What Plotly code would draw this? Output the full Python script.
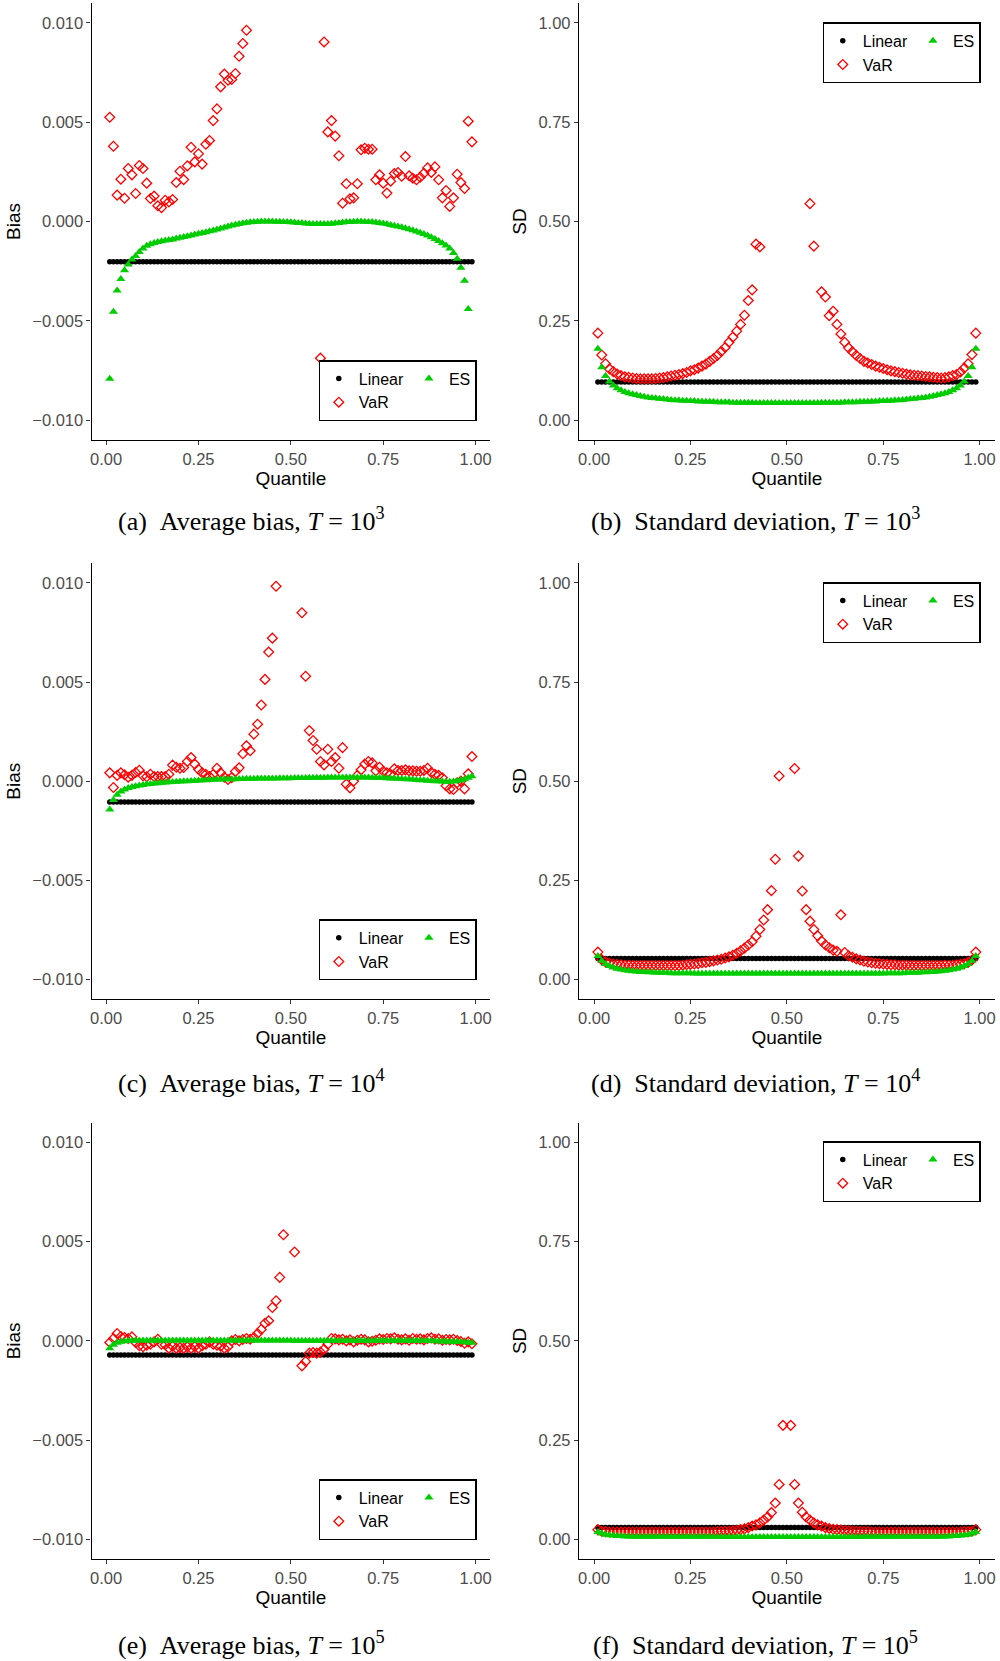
import plotly.graph_objects as go

# ---------------- data ----------------
QUANTILE = [0.01, 0.02, 0.03, 0.04, 0.05, 0.06, 0.07, 0.08, 0.09, 0.10,
            0.11, 0.12, 0.13, 0.14, 0.15, 0.16, 0.17, 0.18, 0.19, 0.20,
            0.21, 0.22, 0.23, 0.24, 0.25, 0.26, 0.27, 0.28, 0.29, 0.30,
            0.31, 0.32, 0.33, 0.34, 0.35, 0.36, 0.37, 0.38, 0.39, 0.40,
            0.41, 0.42, 0.43, 0.44, 0.45, 0.46, 0.47, 0.48, 0.49, 0.50,
            0.51, 0.52, 0.53, 0.54, 0.55, 0.56, 0.57, 0.58, 0.59, 0.60,
            0.61, 0.62, 0.63, 0.64, 0.65, 0.66, 0.67, 0.68, 0.69, 0.70,
            0.71, 0.72, 0.73, 0.74, 0.75, 0.76, 0.77, 0.78, 0.79, 0.80,
            0.81, 0.82, 0.83, 0.84, 0.85, 0.86, 0.87, 0.88, 0.89, 0.90,
            0.91, 0.92, 0.93, 0.94, 0.95, 0.96, 0.97, 0.98, 0.99]

# (a) Average bias, T = 10^3  (None = outside the plotted range)
LINEAR_A = [-0.00203] * 99
VAR_A = [0.00525, 0.00379, 0.00133, 0.00213, 0.00117, 0.00267, 0.00235, 0.00141, 0.00282, 0.00267,
         0.00193, 0.00116, 0.00128, 0.00079, 0.00070, 0.00107, 0.00099, 0.00111, 0.00196, 0.00253,
         0.00211, 0.00280, 0.00374, 0.00300, 0.00341, 0.00289, 0.00389, 0.00408, 0.00508, 0.00567,
         0.00678, 0.00742, 0.00711, 0.00715, 0.00745, 0.00832, 0.00896, 0.00963, None, None,
         None, None, None, None, None, None, None, None, None, None,
         None, None, None, None, None, None, None, -0.00688, 0.00904, 0.00451,
         0.00508, 0.00430, 0.00331, 0.00092, 0.00190, 0.00114, 0.00119, 0.00190, 0.00361, 0.00369,
         0.00364, 0.00364, 0.00210, 0.00235, 0.00193, 0.00143, 0.00203, 0.00242, 0.00247, 0.00228,
         0.00327, 0.00230, 0.00218, 0.00210, 0.00223, 0.00243, 0.00270, 0.00247, 0.00275, 0.00210,
         0.00119, 0.00156, 0.00076, 0.00119, 0.00238, 0.00196, 0.00166, 0.00505, 0.00401]
ES_A = [-0.00792, -0.00454, -0.00347, -0.00290, -0.00246, -0.00216, -0.00191, -0.00174, -0.00154, -0.00136,
        -0.00122, -0.00114, -0.00108, -0.00103, -0.00099, -0.00096, -0.00093, -0.00090, -0.00086, -0.00082,
        -0.00078, -0.00074, -0.00070, -0.00066, -0.00062, -0.00058, -0.00054, -0.00049, -0.00045, -0.00040,
        -0.00035, -0.00030, -0.00025, -0.00020, -0.00016, -0.00012, -0.00009, -0.00006, -0.00004, -0.00002,
        -0.00001, 0.00000, 0.00000, 0.00000, 0.00000, -0.00001, -0.00001, -0.00002, -0.00003, -0.00004,
        -0.00005, -0.00007, -0.00008, -0.00010, -0.00011, -0.00012, -0.00013, -0.00013, -0.00013, -0.00012,
        -0.00011, -0.00009, -0.00007, -0.00005, -0.00003, -0.00002, -0.00001, 0.00000, 0.00000, -0.00001,
        -0.00002, -0.00003, -0.00005, -0.00007, -0.00010, -0.00013, -0.00017, -0.00021, -0.00025, -0.00029,
        -0.00034, -0.00039, -0.00044, -0.00050, -0.00056, -0.00063, -0.00071, -0.00079, -0.00088, -0.00098,
        -0.00109, -0.00121, -0.00136, -0.00158, -0.00188, -0.00233, -0.00298, -0.00441, None]

# (b) Standard deviation, T = 10^3
LINEAR_B = [0.096] * 99
VAR_B = [0.219, 0.164, 0.142, 0.129, 0.122, 0.116, 0.112, 0.109, 0.108, 0.106,
         0.105, 0.104, 0.104, 0.104, 0.104, 0.105, 0.106, 0.107, 0.109, 0.111,
         0.113, 0.115, 0.117, 0.120, 0.124, 0.127, 0.131, 0.136, 0.141, 0.148,
         0.155, 0.163, 0.173, 0.183, 0.196, 0.209, 0.224, 0.241, 0.264, 0.301,
         0.328, 0.443, 0.436, None, None, None, None, None, None, None,
         None, None, None, None, None, 0.545, 0.438, None, 0.323, 0.310,
         0.263, 0.274, 0.241, 0.217, 0.196, 0.182, 0.172, 0.163, 0.155, 0.148,
         0.144, 0.140, 0.136, 0.133, 0.130, 0.127, 0.124, 0.122, 0.120, 0.118,
         0.116, 0.114, 0.113, 0.112, 0.111, 0.110, 0.109, 0.108, 0.107, 0.106,
         0.107, 0.109, 0.112, 0.115, 0.121, 0.131, 0.142, 0.165, 0.219]
ES_B = [0.180, 0.133, 0.111, 0.097, 0.087, 0.080, 0.075, 0.071, 0.068, 0.065,
        0.063, 0.061, 0.059, 0.057, 0.056, 0.055, 0.054, 0.053, 0.052, 0.051,
        0.050, 0.050, 0.049, 0.049, 0.048, 0.048, 0.047, 0.047, 0.046, 0.046,
        0.046, 0.045, 0.045, 0.045, 0.045, 0.044, 0.044, 0.044, 0.044, 0.044,
        0.044, 0.043, 0.043, 0.043, 0.043, 0.043, 0.043, 0.043, 0.043, 0.043,
        0.043, 0.043, 0.043, 0.043, 0.043, 0.043, 0.043, 0.043, 0.044, 0.044,
        0.044, 0.044, 0.044, 0.044, 0.045, 0.045, 0.045, 0.045, 0.046, 0.046,
        0.046, 0.047, 0.047, 0.048, 0.048, 0.049, 0.049, 0.050, 0.050, 0.051,
        0.052, 0.053, 0.054, 0.055, 0.056, 0.057, 0.059, 0.061, 0.063, 0.065,
        0.068, 0.071, 0.075, 0.080, 0.087, 0.097, 0.111, 0.133, 0.180]

# (c) Average bias, T = 10^4
LINEAR_C = [-0.00105] * 99
VAR_C = [0.00042, -0.00032, 0.00029, 0.00042, 0.00032, 0.00020, 0.00029, 0.00044, 0.00055, 0.00027,
         0.00022, 0.00035, 0.00023, 0.00023, 0.00023, 0.00023, 0.00035, 0.00081, 0.00070, 0.00065,
         0.00069, 0.00099, 0.00119, 0.00086, 0.00060, 0.00042, 0.00034, 0.00023, 0.00034, 0.00065,
         0.00042, 0.00020, 0.00008, 0.00018, 0.00049, 0.00067, 0.00138, 0.00178, 0.00153, 0.00237,
         0.00287, 0.00384, 0.00513, 0.00651, 0.00721, 0.00983, None, None, None, None,
         None, None, 0.00849, 0.00529, 0.00255, 0.00205, 0.00161, 0.00099, 0.00082, 0.00161,
         0.00099, 0.00119, 0.00065, 0.00169, -0.00015, -0.00034, 0.00000, 0.00029, 0.00057, 0.00086,
         0.00099, 0.00092, 0.00052, 0.00070, 0.00050, 0.00042, 0.00035, 0.00062, 0.00054, 0.00054,
         0.00057, 0.00052, 0.00052, 0.00050, 0.00050, 0.00054, 0.00065, 0.00044, 0.00034, 0.00029,
         0.00017, -0.00023, -0.00039, -0.00042, -0.00008, 0.00000, -0.00039, 0.00037, 0.00124]
ES_C = [-0.00143, -0.00095, -0.00068, -0.00052, -0.00042, -0.00035, -0.00030, -0.00026, -0.00022, -0.00019,
        -0.00016, -0.00014, -0.00012, -0.00010, -0.00008, -0.00007, -0.00006, -0.00004, -0.00003, -0.00002,
        -0.00001, 0.00000, 0.00001, 0.00002, 0.00003, 0.00004, 0.00005, 0.00006, 0.00007, 0.00008,
        0.00008, 0.00009, 0.00009, 0.00010, 0.00010, 0.00011, 0.00011, 0.00012, 0.00012, 0.00012,
        0.00013, 0.00013, 0.00013, 0.00014, 0.00014, 0.00014, 0.00015, 0.00015, 0.00015, 0.00015,
        0.00016, 0.00016, 0.00016, 0.00016, 0.00017, 0.00017, 0.00017, 0.00017, 0.00017, 0.00018,
        0.00018, 0.00018, 0.00018, 0.00018, 0.00018, 0.00018, 0.00018, 0.00018, 0.00018, 0.00018,
        0.00018, 0.00017, 0.00017, 0.00016, 0.00016, 0.00015, 0.00014, 0.00013, 0.00012, 0.00011,
        0.00010, 0.00009, 0.00008, 0.00006, 0.00005, 0.00004, 0.00002, 0.00001, 0.00000, -0.00001,
        -0.00002, -0.00003, -0.00003, -0.00002, 0.00001, 0.00005, 0.00010, 0.00017, 0.00025]

# (d) Standard deviation, T = 10^4
LINEAR_D = [0.053] * 99
VAR_D = [0.069, 0.050, 0.044, 0.041, 0.039, 0.038, 0.037, 0.036, 0.036, 0.035,
         0.035, 0.035, 0.035, 0.035, 0.035, 0.035, 0.035, 0.035, 0.035, 0.035,
         0.035, 0.035, 0.036, 0.037, 0.038, 0.039, 0.040, 0.042, 0.043, 0.045,
         0.047, 0.049, 0.051, 0.054, 0.057, 0.061, 0.066, 0.072, 0.079, 0.087,
         0.095, 0.109, 0.126, 0.150, 0.176, 0.224, 0.303, 0.513, None, None,
         None, 0.532, 0.311, 0.223, 0.176, 0.147, 0.126, 0.110, 0.097, 0.087,
         0.080, 0.074, 0.071, 0.163, 0.068, 0.060, 0.056, 0.052, 0.049, 0.046,
         0.044, 0.042, 0.041, 0.040, 0.039, 0.038, 0.037, 0.037, 0.036, 0.036,
         0.036, 0.035, 0.035, 0.035, 0.035, 0.035, 0.035, 0.035, 0.035, 0.035,
         0.036, 0.036, 0.036, 0.037, 0.038, 0.040, 0.043, 0.049, 0.069]
ES_D = [0.059, 0.047, 0.039, 0.034, 0.030, 0.027, 0.025, 0.023, 0.022, 0.021,
        0.020, 0.019, 0.019, 0.018, 0.018, 0.017, 0.017, 0.017, 0.017, 0.016,
        0.016, 0.016, 0.016, 0.016, 0.016, 0.015, 0.015, 0.015, 0.015, 0.015,
        0.015, 0.015, 0.015, 0.015, 0.015, 0.015, 0.015, 0.015, 0.015, 0.015,
        0.015, 0.015, 0.015, 0.015, 0.015, 0.015, 0.015, 0.015, 0.015, 0.015,
        0.015, 0.015, 0.015, 0.015, 0.015, 0.015, 0.015, 0.015, 0.015, 0.015,
        0.015, 0.015, 0.015, 0.015, 0.015, 0.015, 0.015, 0.015, 0.015, 0.015,
        0.015, 0.015, 0.015, 0.015, 0.015, 0.016, 0.016, 0.016, 0.016, 0.016,
        0.017, 0.017, 0.017, 0.017, 0.018, 0.018, 0.019, 0.019, 0.020, 0.021,
        0.022, 0.023, 0.025, 0.027, 0.030, 0.034, 0.039, 0.047, 0.059]

# (e) Average bias, T = 10^5
LINEAR_E = [-0.00071] * 99
VAR_E = [-0.00008, 0.00012, 0.00037, 0.00022, 0.00017, 0.00012, 0.00020, -0.00008, -0.00025, -0.00030,
         -0.00022, -0.00017, -0.00005, 0.00008, -0.00017, -0.00020, -0.00037, -0.00027, -0.00037, -0.00034,
         -0.00037, -0.00030, -0.00037, -0.00029, -0.00037, -0.00025, -0.00017, -0.00005, -0.00017, -0.00022,
         -0.00027, -0.00037, -0.00030, 0.00000, 0.00007, 0.00000, 0.00007, 0.00012, 0.00008, 0.00017,
         0.00037, 0.00057, 0.00089, 0.00101, 0.00168, 0.00202, 0.00320, 0.00535, None, None,
         0.00448, None, -0.00126, -0.00104, -0.00062, -0.00059, -0.00062, -0.00057, -0.00042, -0.00017,
         0.00012, 0.00010, 0.00005, 0.00008, 0.00000, 0.00005, -0.00005, 0.00003, 0.00008, 0.00005,
         -0.00005, -0.00002, 0.00003, 0.00010, 0.00007, 0.00012, 0.00010, 0.00015, 0.00008, 0.00005,
         0.00010, 0.00003, 0.00012, 0.00008, 0.00010, 0.00005, 0.00012, 0.00015, 0.00008, 0.00010,
         0.00003, 0.00007, 0.00005, 0.00008, 0.00002, -0.00003, -0.00012, -0.00005, -0.00015]
ES_E = [-0.00037, -0.00020, -0.00010, -0.00005, -0.00002, 0.00000, 0.00001, 0.00002, 0.00002, 0.00002,
        0.00002, 0.00002, 0.00002, 0.00002, 0.00002, 0.00002, 0.00002, 0.00002, 0.00002, 0.00002,
        0.00002, 0.00002, 0.00002, 0.00002, 0.00002, 0.00002, 0.00002, 0.00002, 0.00002, 0.00002,
        0.00002, 0.00002, 0.00002, 0.00002, 0.00002, 0.00002, 0.00002, 0.00002, 0.00002, 0.00002,
        0.00002, 0.00002, 0.00002, 0.00002, 0.00002, 0.00002, 0.00002, 0.00002, 0.00002, 0.00002,
        0.00001, 0.00001, 0.00001, 0.00001, 0.00001, 0.00001, 0.00001, 0.00001, 0.00001, 0.00001,
        0.00001, 0.00001, 0.00001, 0.00001, 0.00001, 0.00001, 0.00001, 0.00001, 0.00001, 0.00001,
        0.00001, 0.00001, 0.00001, 0.00001, 0.00001, 0.00001, 0.00001, 0.00001, 0.00001, 0.00001,
        0.00000, 0.00000, 0.00000, 0.00000, 0.00000, -0.00001, -0.00001, -0.00001, -0.00002, -0.00002,
        -0.00003, -0.00003, -0.00004, -0.00005, -0.00005, -0.00006, -0.00007, -0.00008, -0.00010]

# (f) Standard deviation, T = 10^5
LINEAR_F = [0.0295] * 99
VAR_F = [0.024, 0.020, 0.019, 0.018, 0.018, 0.018, 0.018, 0.018, 0.018, 0.018,
         0.018, 0.018, 0.018, 0.018, 0.018, 0.018, 0.018, 0.018, 0.018, 0.018,
         0.018, 0.018, 0.018, 0.018, 0.018, 0.018, 0.018, 0.018, 0.018, 0.018,
         0.018, 0.019, 0.019, 0.020, 0.020, 0.021, 0.022, 0.024, 0.026, 0.029,
         0.033, 0.036, 0.041, 0.048, 0.056, 0.067, 0.091, 0.138, 0.287, None,
         0.287, 0.138, 0.091, 0.068, 0.056, 0.048, 0.041, 0.036, 0.033, 0.029,
         0.027, 0.025, 0.024, 0.023, 0.022, 0.021, 0.020, 0.020, 0.019, 0.019,
         0.019, 0.018, 0.018, 0.018, 0.018, 0.018, 0.018, 0.018, 0.018, 0.018,
         0.018, 0.018, 0.018, 0.018, 0.018, 0.018, 0.018, 0.018, 0.018, 0.018,
         0.018, 0.018, 0.018, 0.018, 0.018, 0.019, 0.019, 0.020, 0.024]
ES_F = [0.018, 0.014, 0.011, 0.010, 0.009, 0.008, 0.008, 0.007, 0.007, 0.006,
        0.006, 0.006, 0.006, 0.006, 0.006, 0.006, 0.006, 0.006, 0.006, 0.006,
        0.006, 0.006, 0.006, 0.006, 0.006, 0.006, 0.006, 0.006, 0.006, 0.006,
        0.0055, 0.0055, 0.0055, 0.0055, 0.0055, 0.0055, 0.0055, 0.0055, 0.0055, 0.0055,
        0.0055, 0.0055, 0.0055, 0.0055, 0.0055, 0.0055, 0.0055, 0.0055, 0.0055, 0.0055,
        0.0055, 0.0055, 0.0055, 0.0055, 0.0055, 0.0055, 0.0055, 0.0055, 0.0055, 0.0055,
        0.0055, 0.0055, 0.0055, 0.0055, 0.0055, 0.0055, 0.0055, 0.0055, 0.0055, 0.006,
        0.006, 0.006, 0.006, 0.006, 0.006, 0.006, 0.006, 0.006, 0.006, 0.006,
        0.006, 0.006, 0.006, 0.006, 0.006, 0.006, 0.006, 0.006, 0.006, 0.006,
        0.007, 0.007, 0.008, 0.008, 0.009, 0.010, 0.011, 0.014, 0.018]

BIAS_TICKS = [-0.010, -0.005, 0.000, 0.005, 0.010]
SD_TICKS = [0.00, 0.25, 0.50, 0.75, 1.00]
X_TICKS = [0.00, 0.25, 0.50, 0.75, 1.00]

CAPTIONS = [
    "(a)&nbsp;&nbsp;Average bias, <i>T</i> = 10<sup>3</sup>",
    "(b)&nbsp;&nbsp;Standard deviation, <i>T</i> = 10<sup>3</sup>",
    "(c)&nbsp;&nbsp;Average bias, <i>T</i> = 10<sup>4</sup>",
    "(d)&nbsp;&nbsp;Standard deviation, <i>T</i> = 10<sup>4</sup>",
    "(e)&nbsp;&nbsp;Average bias, <i>T</i> = 10<sup>5</sup>",
    "(f)&nbsp;&nbsp;Standard deviation, <i>T</i> = 10<sup>5</sup>",
]

# ---------------- layout geometry ----------------
W, H = 1000, 1661
SANS = "Liberation Sans, Arial, sans-serif"
SERIF = "Liberation Serif, Times New Roman, serif"
RED = "#FF0000"
GREEN = "#00CD00"

X_DOM = {"L": [0.090, 0.490], "R": [0.5793, 0.9967]}
Y_DOM = [[0.73510, 0.99819], [0.39837, 0.66104], [0.06141, 0.32408]]
CAPTION_Y = [1 - 520 / H, 1 - 1081.7 / H, 1 - 1643.3 / H]

panels = [
    dict(key="a", col="L", row=0, lin=LINEAR_A, var=VAR_A, es=ES_A, kind="bias",
         leg=dict(x=0.4767, xanchor="right", y=1 - 421 / H, yanchor="bottom")),
    dict(key="b", col="R", row=0, lin=LINEAR_B, var=VAR_B, es=ES_B, kind="sd",
         leg=dict(x=0.9827, xanchor="right", y=1 - 22.3 / H, yanchor="top")),
    dict(key="c", col="L", row=1, lin=LINEAR_C, var=VAR_C, es=ES_C, kind="bias",
         leg=dict(x=0.4767, xanchor="right", y=1 - 980.3 / H, yanchor="bottom")),
    dict(key="d", col="R", row=1, lin=LINEAR_D, var=VAR_D, es=ES_D, kind="sd",
         leg=dict(x=0.9827, xanchor="right", y=1 - 582 / H, yanchor="top")),
    dict(key="e", col="L", row=2, lin=LINEAR_E, var=VAR_E, es=ES_E, kind="bias",
         leg=dict(x=0.4767, xanchor="right", y=1 - 1540 / H, yanchor="bottom")),
    dict(key="f", col="R", row=2, lin=LINEAR_F, var=VAR_F, es=ES_F, kind="sd",
         leg=dict(x=0.9827, xanchor="right", y=1 - 1141 / H, yanchor="top")),
]

fig = go.Figure()
layout = dict(
    width=W, height=H,
    margin=dict(l=0, r=0, t=0, b=0),
    paper_bgcolor="white", plot_bgcolor="white",
    font=dict(family=SANS, color="black"),
    showlegend=True,
    annotations=[],
)

axis_common = dict(
    showline=True, linecolor="black", linewidth=1.3,
    ticks="outside", ticklen=4, tickwidth=1.1, tickcolor="#333333",
    showgrid=False, zeroline=False,
    tickfont=dict(family=SANS, size=16.5, color="#4D4D4D"),
    fixedrange=True,
)

for i, p in enumerate(panels):
    n = i + 1
    xa = "x" if n == 1 else f"x{n}"
    ya = "y" if n == 1 else f"y{n}"
    leg = "legend" if n == 1 else f"legend{n}"
    g1 = f"{p['key']}_g1"
    g2 = f"{p['key']}_g2"

    fig.add_trace(go.Scatter(
        x=QUANTILE, y=p["lin"], mode="markers", name="Linear",
        xaxis=xa, yaxis=ya, legend=leg, legendgroup=g1,
        marker=dict(symbol="circle", size=5.5, color="black", line=dict(width=0)),
    ))
    fig.add_trace(go.Scatter(
        x=QUANTILE, y=p["var"], mode="markers", name="VaR",
        xaxis=xa, yaxis=ya, legend=leg, legendgroup=g1,
        marker=dict(symbol="diamond-open", size=7.5, color=RED, line=dict(width=1.3, color=RED)),
    ))
    fig.add_trace(go.Scatter(
        x=QUANTILE, y=p["es"], mode="markers", name="ES",
        xaxis=xa, yaxis=ya, legend=leg, legendgroup=g2,
        marker=dict(symbol="triangle-up", size=8, color=GREEN, line=dict(width=0)),
    ))

    xkey = "xaxis" if n == 1 else f"xaxis{n}"
    ykey = "yaxis" if n == 1 else f"yaxis{n}"
    layout[xkey] = dict(
        axis_common, domain=X_DOM[p["col"]], anchor=ya,
        range=[-0.039, 1.039], tickvals=X_TICKS, tickformat=".2f",
        title=dict(text="Quantile", font=dict(family=SANS, size=19, color="black"), standoff=3),
    )
    if p["kind"] == "bias":
        layout[ykey] = dict(
            axis_common, domain=Y_DOM[p["row"]], anchor=xa,
            range=[-0.011, 0.011], tickvals=BIAS_TICKS, tickformat=".3f",
            title=dict(text="Bias", font=dict(family=SANS, size=19, color="black"), standoff=6),
        )
    else:
        layout[ykey] = dict(
            axis_common, domain=Y_DOM[p["row"]], anchor=xa,
            range=[-0.05, 1.05], tickvals=SD_TICKS, tickformat=".2f",
            title=dict(text="SD", font=dict(family=SANS, size=19, color="black"), standoff=6),
        )
    layout[leg] = dict(
        p["leg"], orientation="h", traceorder="grouped", tracegroupgap=0,
        bgcolor="white", bordercolor="black", borderwidth=1.5,
        font=dict(family=SANS, size=16, color="black"), itemwidth=30,
        itemclick=False, itemdoubleclick=False,
    )
    cx = 0.25 if p["col"] == "L" else 0.7565
    layout["annotations"].append(dict(
        text=CAPTIONS[i], x=cx, y=CAPTION_Y[p["row"]], xref="paper", yref="paper",
        xanchor="center", yanchor="middle", showarrow=False,
        font=dict(family=SERIF, size=26, color="black"),
    ))

fig.update_layout(**layout)
fig.write_html("out.html", config={"displayModeBar": False})
